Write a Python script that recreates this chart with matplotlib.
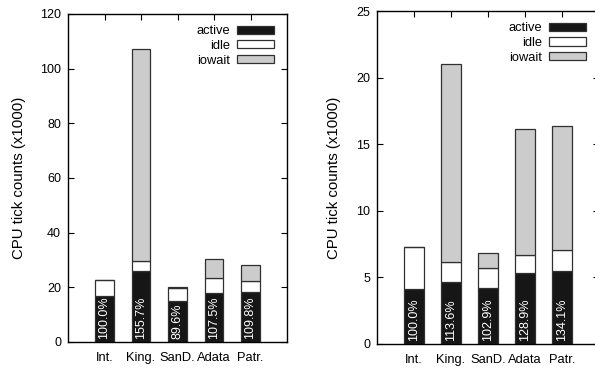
import numpy as np
import matplotlib.pyplot as plt

plt.rcParams['font.family'] = ['Liberation Sans', 'DejaVu Sans']

# Datos (x1000 ticks de CPU)
dispositivos = ['Int.', 'King.', 'SanD.', 'Adata', 'Patr.']

# Panel izquierdo
activo_izq = [16.7, 25.8, 14.9, 17.8, 18.2]
idle_izq = [5.9, 3.9, 5.0, 5.5, 4.3]
iowait_izq = [0.0, 77.4, 0.3, 7.2, 5.6]
etiquetas_izq = ['100.0%', '155.7%', '89.6%', '107.5%', '109.8%']

# Panel derecho
activo_der = [4.1, 4.67, 4.22, 5.32, 5.5]
idle_der = [3.15, 1.48, 1.5, 1.35, 1.52]
iowait_der = [0.0, 14.9, 1.08, 9.45, 9.38]
etiquetas_der = ['100.0%', '113.6%', '102.9%', '128.9%', '134.1%']

fig = plt.figure(figsize=(5.95, 3.68), dpi=100)
ax1 = fig.add_axes([68 / 595, 1 - 342 / 368, 219 / 595, 328 / 368])
ax2 = fig.add_axes([377 / 595, 1 - 344 / 368, 222 / 595, 333 / 368])


def dibuja(ax, activo, idle, iowait, etiquetas, ymax, paso, off):
    x = np.arange(1, len(dispositivos) + 1)
    activo = np.array(activo)
    idle = np.array(idle)
    iowait = np.array(iowait)
    borde = '#303030'
    ax.bar(x, activo, 0.52, color='#161616', edgecolor=borde, lw=0.9, label='active')
    ax.bar(x, idle, 0.52, bottom=activo, color='white', edgecolor=borde, lw=0.9, label='idle')
    ax.bar(x, iowait, 0.52, bottom=activo + idle, color='#cccccc', edgecolor=borde, lw=0.9,
           label='iowait')
    for xi, t in zip(x, etiquetas):
        ax.text(xi, off, t, rotation=90, color='white', ha='center', va='bottom', fontsize=9)
    ax.set_xlim(0, 6)
    ax.set_ylim(0, ymax)
    ax.set_yticks(np.arange(0, ymax + 1, paso))
    ax.set_xticks(x)
    ax.set_xticklabels(dispositivos, fontsize=9.3)
    ax.tick_params(axis='y', labelsize=9, direction='in', right=True, length=4, pad=5)
    ax.tick_params(axis='x', direction='in', top=True, bottom=False, length=4, pad=7)
    ax.set_ylabel('CPU tick counts (x1000)', fontsize=10.8)
    for s in ax.spines.values():
        s.set_linewidth(1.0)
    leg = ax.legend(loc='upper right', bbox_to_anchor=(0.982, 0.993), frameon=False,
                    fontsize=9.3, markerfirst=False,
                    handlelength=2.9, handleheight=0.6, labelspacing=0.2,
                    handletextpad=0.5, borderaxespad=0.3)
    for t in leg.get_texts():
        t.set_ha('right')


dibuja(ax1, activo_izq, idle_izq, iowait_izq, etiquetas_izq, 120, 20, 1.0)
dibuja(ax2, activo_der, idle_der, iowait_der, etiquetas_der, 25, 5, 0.2)
ax1.yaxis.set_label_coords(-0.19, 0.5)
ax2.yaxis.set_label_coords(-0.16, 0.5)

fig.savefig('out.png', dpi=100)
